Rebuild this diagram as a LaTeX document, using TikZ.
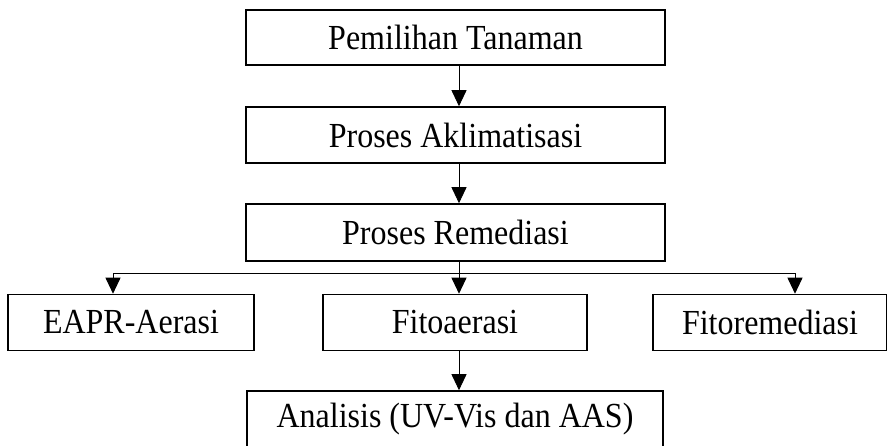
\documentclass[tikz,border=0pt]{standalone}
\usepackage{fontspec}
\setmainfont{Liberation Serif}
\usetikzlibrary{arrows.meta}

\newcommand{\lbl}[1]{\scalebox{1}[1.1]{#1}}

\tikzset{
  box/.style={draw, line width=1.6pt, minimum height=56pt, inner sep=0pt,
    font=\fontsize{32}{38}\selectfont},
  arr/.style={line width=0.9pt, -{Triangle[width=15pt,length=16pt]}}
}

\begin{document}
\begin{tikzpicture}[x=1pt, y=-1pt]
      \useasboundingbox (0,0) rectangle (887,445);
      \node[box, minimum width=419pt, minimum height=55pt] (pilih) at (455.5,37.5) {\lbl{Pemilihan Tanaman}};
      \node[box, minimum width=419pt] (aklim) at (455.5,135) {\lbl{Proses Aklimatisasi}};
      \node[box, minimum width=419pt, minimum height=57pt] (remed) at (455.5,232.5) {\lbl{Proses Remediasi}};
      \node[box, minimum width=246pt] (eapr) at (131,322.5) {\lbl{EAPR-Aerasi}};
      \node[box, minimum width=264pt] (fitoa) at (455,322.5) {\lbl{Fitoaerasi}};
      \node[box, minimum width=234pt] (fitor) at (770,322.5) {\lbl{Fitoremediasi}};
      \node[box, minimum width=416pt] (anal) at (455,419) {\lbl{Analisis (UV-Vis dan AAS)}};
      \coordinate (split) at (459,273);
      \draw[arr] (pilih.south -| split) -- (aklim.north -| split);
      \draw[arr] (aklim.south -| split) -- (remed.north -| split);
      \draw[arr] (remed.south -| split) -- (split) -| ([xshift=-18pt]eapr.north);
      \draw[arr] (split) -| ([xshift=25pt]fitor.north);
      \draw[arr] (split) -- (fitoa.north -| split);
      \draw[arr] (fitoa.south -| split) -- (anal.north -| split);
  \end{tikzpicture}
\end{document}
